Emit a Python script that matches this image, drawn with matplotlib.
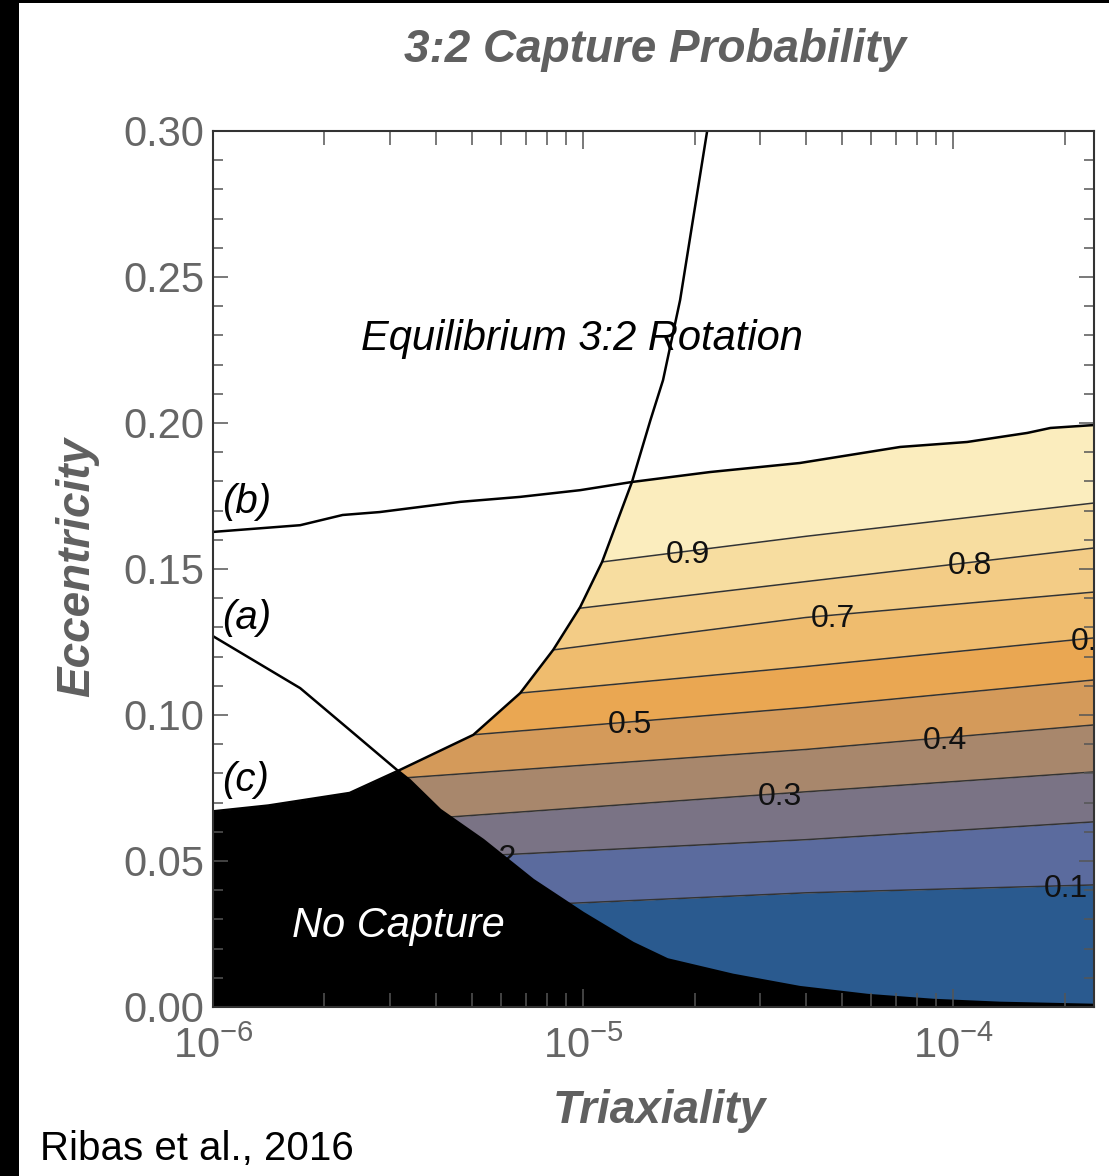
import numpy as np
import matplotlib
matplotlib.use("Agg")
import matplotlib.pyplot as plt
from matplotlib.patches import Rectangle
from matplotlib.ticker import MultipleLocator, FormatStrFormatter, LogLocator

plt.rcParams["font.family"] = ["Liberation Sans", "DejaVu Sans"]
plt.rcParams["mathtext.fontset"] = "custom"
plt.rcParams["mathtext.rm"] = "Liberation Sans"
plt.rcParams["mathtext.it"] = "Liberation Sans:italic"
plt.rcParams["mathtext.default"] = "regular"

# capture probability contour levels, sampled at a few triaxiality values
tri_grid = [3.0e-6, 1.0e-5, 4.0e-5, 2.4e-4]
p_01 = [0.0328, 0.0357, 0.0391, 0.0418]
p_02 = [0.0502, 0.0535, 0.0573, 0.0634]
p_03 = [0.0636, 0.0683, 0.0737, 0.0805]
p_04 = [0.0781, 0.0828, 0.0882, 0.0966]
p_05 = [0.0909, 0.0963, 0.1026, 0.1120]
p_06 = [0.1034, 0.1095, 0.1166, 0.1264]
p_07 = [0.1151, 0.1236, 0.1334, 0.1421]
p_08 = [0.1289, 0.1367, 0.1457, 0.1572]
p_09 = [0.1432, 0.1516, 0.1612, 0.1726]
levels = [0.1, 0.2, 0.3, 0.4, 0.5, 0.6, 0.7, 0.8, 0.9]
level_lines = [p_01, p_02, p_03, p_04, p_05, p_06, p_07, p_08, p_09]
band_colors = ["#2a5a8f", "#5b6b9e", "#7a7385", "#a8876c", "#d49a5a",
               "#eaa752", "#efbc6e", "#f3cc86", "#f7dda0", "#fbedbe"]

# where each level is labelled (triaxiality)
label_tri = [2.01e-4, 5.78e-6, 3.40e-5, 9.51e-5, 1.34e-5, 2.38e-4, 4.74e-5, 1.11e-4, 1.92e-5]

# curve (a): no-capture boundary
tri_a = [1.0e-6, 1.72e-6, 2.34e-6, 3.14e-6, 3.40e-6, 4.11e-6, 5.37e-6, 7.33e-6, 1.0e-5,
         1.365e-5, 1.69e-5, 2.54e-5, 3.85e-5, 5.86e-5, 8.83e-5, 1.34e-4, 2.4e-4]
ecc_a = [0.1270, 0.1092, 0.0949, 0.0812, 0.0777, 0.0675, 0.0572, 0.0435, 0.0322,
         0.0219, 0.0163, 0.0110, 0.0068, 0.0041, 0.0024, 0.0014, 0.0007]

# curve (b): upper limit of capture
tri_b = [1.0e-6, 1.72e-6, 2.24e-6, 2.82e-6, 4.66e-6, 6.76e-6, 9.82e-6, 1.355e-5,
         2.2e-5, 3.85e-5, 7.19e-5, 1.09e-4, 1.585e-4, 1.83e-4, 2.4e-4]
ecc_b = [0.1627, 0.1650, 0.1685, 0.1695, 0.1730, 0.1747, 0.1770, 0.1798,
         0.1832, 0.1863, 0.1918, 0.1935, 0.1966, 0.1983, 0.1993]

# curve (c): equilibrium 3:2 rotation
tri_c = [1.0e-6, 1.41e-6, 2.34e-6, 3.20e-6, 5.05e-6, 6.76e-6, 8.30e-6, 9.82e-6,
         1.125e-5, 1.355e-5, 1.52e-5, 1.644e-5, 1.828e-5, 2.163e-5]
ecc_c = [0.0670, 0.0690, 0.0733, 0.0812, 0.0932, 0.1075, 0.1223, 0.1370,
         0.1524, 0.1798, 0.2010, 0.2147, 0.2421, 0.3000]

W, H = 1109, 1176
fig = plt.figure(figsize=(W / 100, H / 100), dpi=100)
ax = fig.add_axes([213 / W, 1 - 1007 / H, (1094 - 213) / W, (1007 - 131) / H])
ax.set_xscale("log")
ax.set_xlim(1e-6, 2.4e-4)
ax.set_ylim(0, 0.30)

# filled probability bands
bounds = [np.zeros(len(tri_grid))] + [np.array(l) for l in level_lines] + [np.full(len(tri_grid), 0.30)]
for lo, hi, col in zip(bounds[:-1], bounds[1:], band_colors):
    ax.fill_between(tri_grid, lo, hi, color=col, lw=0, zorder=1.0)
for line in level_lines:
    ax.plot(tri_grid, line, color="#333333", lw=1.1, zorder=1.1)
for lev, line, xt in zip(levels, level_lines, label_tri):
    yt = np.interp(np.log10(xt), np.log10(tri_grid), line)
    ax.text(xt, yt, f"{lev:.1f}", fontsize=23, color="#111111", ha="center",
            va="center_baseline", zorder=1.2, clip_on=True)

# no-capture region and areas outside the capture zone
ax.fill_between(tri_a, 0, ecc_a, color="black", lw=0, zorder=1.3)
ax.fill_betweenx(ecc_c, 1e-6, tri_c, color="white", lw=0, zorder=1.4)
ax.fill_between(tri_b, ecc_b, 0.30, color="white", lw=0, zorder=1.4)

for tx, ey in [(tri_a, ecc_a), (tri_b, ecc_b), (tri_c, ecc_c)]:
    ax.plot(tx, ey, color="black", lw=1.8, zorder=1.5, solid_joinstyle="round")

ax.text(9.93e-6, 0.225, "Equilibrium 3:2 Rotation", fontsize=30, style="italic",
        ha="center", va="baseline", zorder=1.6)
ax.text(3.16e-6, 0.024, "No Capture", fontsize=30, style="italic", color="white",
        ha="center", va="baseline", zorder=1.6)
for lab, ey in [("(b)", 0.1729), ("(a)", 0.1332), ("(c)", 0.0777)]:
    ax.text(1.06e-6, ey, lab, fontsize=29, style="italic", ha="left", va="center",
            zorder=1.6)

# frame and ticks
ax.yaxis.set_major_locator(MultipleLocator(0.05))
ax.yaxis.set_minor_locator(MultipleLocator(0.01))
ax.yaxis.set_major_formatter(FormatStrFormatter("%.2f"))
ax.xaxis.set_major_locator(LogLocator(base=10, numticks=10))
ax.xaxis.set_minor_locator(LogLocator(base=10, subs=np.arange(2, 10), numticks=20))
ax.tick_params(which="both", direction="in", top=True, right=True, color="#555555",
               width=1.1, labelcolor="#666666", labelsize=30)
ax.tick_params(axis="y", which="major", length=10.8, pad=6)
ax.tick_params(axis="y", which="minor", length=7.2)
ax.tick_params(axis="x", which="major", length=13, pad=14)
ax.tick_params(axis="x", which="minor", length=10)
for sp in ax.spines.values():
    sp.set_linewidth(1.5)
    sp.set_color("#333333")

fig.text(655 / W, 1 - 62 / H, "3:2 Capture Probability", fontsize=33, fontweight="bold",
         style="italic", color="#606060", ha="center", va="baseline")
fig.text(659 / W, 1 - 1123 / H, "Triaxiality", fontsize=33, fontweight="bold",
         style="italic", color="#606060", ha="center", va="baseline")
fig.text(77.5 / W, 1 - 567 / H, "Eccentricity", fontsize=33, fontweight="bold",
         style="italic", color="#606060", ha="center", va="center", rotation=90)
fig.text(40 / W, 1 - 1160 / H, "Ribas et al., 2016", fontsize=29, color="black",
         ha="left", va="baseline")

# dark slide edges
fig.add_artist(Rectangle((0, 0), 19 / W, 1, transform=fig.transFigure,
                         color="black", lw=0, zorder=10))
fig.add_artist(Rectangle((0, 1 - 3 / H), 1, 3 / H, transform=fig.transFigure,
                         color="black", lw=0, zorder=10))

fig.savefig("out.png", dpi=100)
